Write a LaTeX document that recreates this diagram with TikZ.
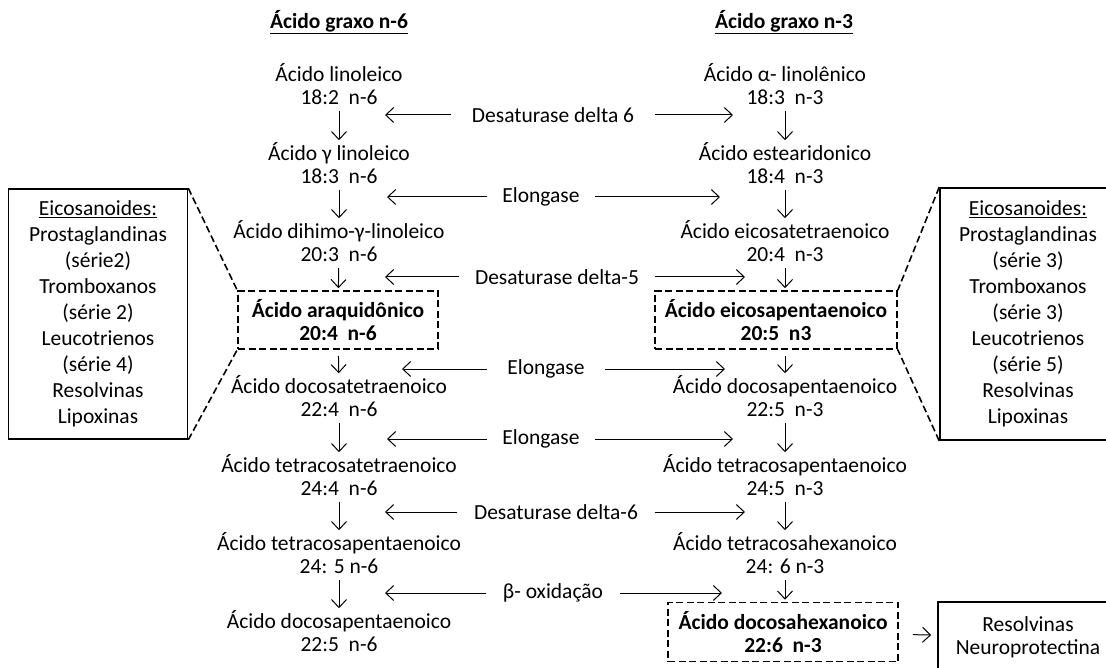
\documentclass[tikz,border=0pt]{standalone}
\usepackage{fontspec}
\setmainfont{Carlito}
\usetikzlibrary{arrows.meta, calc, positioning}

\begin{document}
\begin{tikzpicture}[x=1pt,y=-1pt,>={Straight Barb[length=8pt,width=15pt]},font=\fontsize{21.5}{23}\selectfont]
            \clip (0,0) rectangle (1106,668);
            \tikzstyle{acido}=[align=center,inner sep=0pt]
            \tikzstyle{chave}=[align=center,draw,line width=1.6pt,dash pattern=on 7pt off 3.5pt,minimum height=58pt,inner sep=0pt]
            \tikzstyle{quadro}=[align=center,draw,line width=1.6pt,inner sep=0pt,font=\fontsize{21.5}{26}\selectfont]
            \tikzstyle{enzima}=[inner sep=0pt,minimum height=20pt]
            \tikzstyle{seta}=[->,line width=1pt,shorten <=6pt,shorten >=2pt]
            \tikzstyle{lateral}=[->,line width=1pt]

            % titulos
            \node (h_6) at (339,22) {\underline{\textbf{Ácido graxo n-6}}};
            \node (h_3) at (784,22) {\underline{\textbf{Ácido graxo n-3}}};

            % serie n-6
            \node[acido] (n6_1) at (339,84) {Ácido linoleico\\18:2\ \ n-6};
            \node[acido] (n6_2) at (339,163) {Ácido γ linoleico\\18:3\ \ n-6};
            \node[acido] (n6_3) at (339,241) {Ácido dihimo-γ-linoleico\\20:3\ \ n-6};
            \node[chave,minimum width=200pt] (n6_4) at (338,320) {\textbf{Ácido araquidônico}\\\textbf{20:4\ \ n-6}};
            \node[acido] (n6_5) at (339,396) {Ácido docosatetraenoico\\22:4\ \ n-6};
            \node[acido] (n6_6) at (339,475) {Ácido tetracosatetraenoico\\24:4\ \ n-6};
            \node[acido] (n6_7) at (339,553) {Ácido tetracosapentaenoico\\24: 5 n-6};
            \node[acido] (n6_8) at (339,631) {Ácido docosapentaenoico\\22:5\ \ n-6};

            % serie n-3
            \node[acido] (n3_1) at (785,84) {Ácido α- linolênico\\18:3\ \ n-3};
            \node[acido] (n3_2) at (785,163) {Ácido estearidonico\\18:4\ \ n-3};
            \node[acido] (n3_3) at (785,241) {Ácido eicosatetraenoico\\20:4\ \ n-3};
            \node[chave,minimum width=242pt] (n3_4) at (776,320) {\textbf{Ácido eicosapentaenoico}\\\textbf{20:5\ \ n3}};
            \node[acido] (n3_5) at (785,396) {Ácido docosapentaenoico\\22:5\ \ n-3};
            \node[acido] (n3_6) at (785,475) {Ácido tetracosapentaenoico\\24:5\ \ n-3};
            \node[acido] (n3_7) at (785,553) {Ácido tetracosahexanoico\\24: 6 n-3};
            \node[chave,minimum width=230pt,minimum height=59pt] (n3_8) at (783,632) {\textbf{Ácido docosahexanoico}\\\textbf{22:6\ \ n-3}};

            % eicosanoides e produtos
            \node[quadro,minimum width=179pt,minimum height=250pt] (eic_6) at (98,314) {\underline{Eicosanoides:}\\Prostaglandinas\\(série2)\\Tromboxanos\\(série 2)\\Leucotrienos\\(série 4)\\Resolvinas\\Lipoxinas};
            \node[quadro,minimum width=176pt,minimum height=252pt] (eic_3) at (1028,314) {\underline{Eicosanoides:}\\Prostaglandinas\\(série 3)\\Tromboxanos\\(série 3)\\Leucotrienos\\(série 5)\\Resolvinas\\Lipoxinas};
            \node[quadro,minimum width=180pt,minimum height=70pt,font=\fontsize{21.5}{23}\selectfont] (res) at (1028,637) {Resolvinas\\Neuroprotectina};

            % enzimas
            \node[enzima,minimum width=203pt] (e_1) at (553,115) {Desaturase delta 6};
            \node[enzima,minimum width=108pt] (e_2) at (541,197) {Elongase};
            \node[enzima,minimum width=195pt] (e_3) at (557,277) {Desaturase delta-5};
            \node[enzima,minimum width=118pt] (e_4) at (546,369) {Elongase};
            \node[enzima,minimum width=108pt] (e_5) at (541,439) {Elongase};
            \node[enzima,minimum width=197pt] (e_6) at (556,512) {Desaturase delta-6};
            \node[enzima,minimum width=133pt] (e_7) at (553,593) {β- oxidação};

            \coordinate (e_1l) at (385,115); \coordinate (e_1r) at (733,115);
            \coordinate (e_2l) at (387,197); \coordinate (e_2r) at (720,197);
            \coordinate (e_3l) at (385,277); \coordinate (e_3r) at (745,277);
            \coordinate (e_4l) at (402,369); \coordinate (e_4r) at (725,369);
            \coordinate (e_5l) at (387,439); \coordinate (e_5r) at (733,439);
            \coordinate (e_6l) at (385,512); \coordinate (e_6r) at (745,512);
            \coordinate (e_7l) at (385,593); \coordinate (e_7r) at (722,593);

            \draw [lateral] (e_1.west) -- (e_1l);
            \draw [lateral] (e_1.east) -- (e_1r);
            \draw [lateral] (e_2.west) -- (e_2l);
            \draw [lateral] (e_2.east) -- (e_2r);
            \draw [lateral] (e_3.west) -- (e_3l);
            \draw [lateral] (e_3.east) -- (e_3r);
            \draw [lateral] (e_4.west) -- (e_4l);
            \draw [lateral] (e_4.east) -- (e_4r);
            \draw [lateral] (e_5.west) -- (e_5l);
            \draw [lateral] (e_5.east) -- (e_5r);
            \draw [lateral] (e_6.west) -- (e_6l);
            \draw [lateral] (e_6.east) -- (e_6r);
            \draw [lateral] (e_7.west) -- (e_7l);
            \draw [lateral] (e_7.east) -- (e_7r);

            % setas n-6
            \draw [seta] (n6_1) -- (n6_2);
            \draw [seta] (n6_2) -- (n6_3);
            \draw [seta] (n6_3) -- (n6_4);
            \draw [seta] (n6_4) -- (n6_5);
            \draw [seta] (n6_5) -- (n6_6);
            \draw [seta] (n6_6) -- (n6_7);
            \draw [seta] (n6_7) -- (n6_8);

            % setas n-3
            \draw [seta] (n3_1) -- (n3_2);
            \draw [seta] (n3_2) -- (n3_3);
            \draw [seta] (n3_3.south) -- (n3_3.south |- n3_4.north);
            \draw [seta] (n3_3.south |- n3_4.south) -- (n3_5.north);
            \draw [seta] (n3_5) -- (n3_6);
            \draw [seta] (n3_6) -- (n3_7);
            \draw [seta] (n3_7.south) -- (n3_7.south |- n3_8.north);
            \draw [lateral,shorten <=14pt,shorten >=6pt] (n3_8) -- (res);

            % ligacoes tracejadas
            \draw [line width=1.6pt,dash pattern=on 7pt off 3.5pt] (eic_6.north east) -- (n6_4.north west);
            \draw [line width=1.6pt,dash pattern=on 7pt off 3.5pt] (eic_6.south east) -- (n6_4.south west);
            \draw [line width=1.6pt,dash pattern=on 7pt off 3.5pt] (eic_3.north west) -- (n3_4.north east);
            \draw [line width=1.6pt,dash pattern=on 7pt off 3.5pt] (eic_3.south west) -- (n3_4.south east);
        \end{tikzpicture}
\end{document}
